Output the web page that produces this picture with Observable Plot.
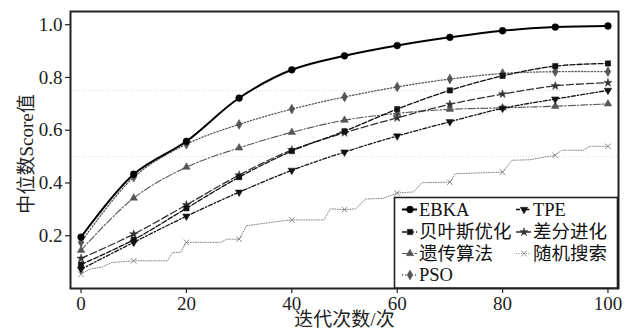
<!DOCTYPE html>
<html>
<head>
<meta charset="utf-8">
<script src="https://cdn.jsdelivr.net/npm/d3@7"></script>
<script src="https://cdn.jsdelivr.net/npm/@observablehq/plot@0.6"></script>
<style>
  html, body { margin: 0; padding: 0; background: #fff; }
  #chart { width: 629px; height: 335px; }
  #chart svg text { font-family: "Liberation Serif", "DejaVu Serif", "Noto Sans CJK SC", serif !important; }
</style>
</head>
<body>
<div id="chart"></div>
<script>
// Iterations at which each optimiser's median score was recorded
const iters = [0, 10, 20, 30, 40, 50, 60, 70, 80, 90, 100];

const ebka  = [0.195, 0.433, 0.558, 0.722, 0.829, 0.882, 0.921, 0.952, 0.977, 0.991, 0.995];
const bayes = [0.091, 0.185, 0.304, 0.422, 0.521, 0.596, 0.680, 0.751, 0.806, 0.843, 0.853];
const ga    = [0.145, 0.343, 0.460, 0.533, 0.592, 0.638, 0.664, 0.679, 0.685, 0.691, 0.700];
const pso   = [0.175, 0.422, 0.547, 0.622, 0.680, 0.726, 0.764, 0.794, 0.815, 0.822, 0.822];
const tpe   = [0.073, 0.175, 0.274, 0.365, 0.448, 0.517, 0.578, 0.632, 0.683, 0.718, 0.751];
const de    = [0.114, 0.206, 0.317, 0.430, 0.525, 0.590, 0.647, 0.698, 0.737, 0.768, 0.780];

// Random search keeps its best score, so its trace is a staircase
const rsIter  = [0, 1.6, 4.1, 5.7, 10, 16.4, 17.4, 18.9, 20, 26.5, 27.7, 30, 31.4, 38.5, 40,
                 46.1, 47.3, 50, 52.1, 54.0, 57.4, 60, 63.1, 64.7, 70, 71.0, 80, 81.8, 85.2,
                 90, 91.2, 95.3, 96.6, 100];
const rsScore = [0.054, 0.073, 0.082, 0.098, 0.105, 0.105, 0.137, 0.137, 0.175, 0.175, 0.187, 0.187, 0.238, 0.257, 0.260,
                 0.260, 0.302, 0.299, 0.302, 0.339, 0.342, 0.362, 0.366, 0.401, 0.403, 0.435, 0.441, 0.486, 0.488,
                 0.505, 0.524, 0.524, 0.539, 0.539];

const xTicks = [0, 20, 40, 60, 80, 100];
const yTicks = [0.2, 0.4, 0.6, 0.8, 1.0];
const gridLevels = [0.5, 0.75];

const xTitle = "迭代次数/次";
const yTitle = "中位数Score值";

const serif = "'Liberation Serif', 'DejaVu Serif', 'Noto Sans CJK SC', serif";

// Line and marker style per optimiser
const styles = {
  "EBKA":    {stroke: "#000", width: 2.0, dash: null,          symbol: "circle",   r: 3.4, rotate: 0,   curve: "catmull-rom"},
  "贝叶斯优化": {stroke: "#111", width: 1.3, dash: "5,2",        symbol: "square",   r: 3.0, rotate: 0,   curve: "catmull-rom"},
  "遗传算法":  {stroke: "#555", width: 1.1, dash: "7,2,1.5,2",  symbol: "triangle", r: 2.8, rotate: 0,   curve: "catmull-rom"},
  "PSO":     {stroke: "#555", width: 1.3, dash: "1.2,2",      symbol: "diamond",  r: 3.0, rotate: 0,   curve: "catmull-rom"},
  "TPE":     {stroke: "#111", width: 1.3, dash: "4,2,1.5,2",  symbol: "triangle", r: 2.8, rotate: 180, curve: "catmull-rom"},
  "差分进化":  {stroke: "#333", width: 1.3, dash: "7,3",        symbol: "star",     r: 2.6, rotate: 0,   curve: "catmull-rom"},
  "随机搜索":  {stroke: "#888", width: 1.0, dash: "1,1.5",      symbol: "times",    r: 2.6, rotate: 0,   curve: "linear"}
};

const seriesData = {
  "EBKA": iters.map((x, i) => ({x, y: ebka[i]})),
  "贝叶斯优化": iters.map((x, i) => ({x, y: bayes[i]})),
  "遗传算法": iters.map((x, i) => ({x, y: ga[i]})),
  "PSO": iters.map((x, i) => ({x, y: pso[i]})),
  "TPE": iters.map((x, i) => ({x, y: tpe[i]})),
  "差分进化": iters.map((x, i) => ({x, y: de[i]})),
  "随机搜索": rsIter.map((x, i) => ({x, y: rsScore[i]}))
};

// Draw order: lighter series underneath, EBKA on top
const drawOrder = ["随机搜索", "PSO", "遗传算法", "差分进化", "贝叶斯优化", "TPE", "EBKA"];

const seriesMarks = drawOrder.flatMap(name => {
  const s = styles[name];
  const pts = seriesData[name];
  const markerPts = pts.filter(d => iters.includes(d.x));
  return [
    Plot.line(pts, {x: "x", y: "y", stroke: s.stroke, strokeWidth: s.width,
                    strokeDasharray: s.dash, curve: s.curve}),
    Plot.dot(markerPts, {x: "x", y: "y", symbol: s.symbol, r: s.r, rotate: s.rotate,
                         fill: s.symbol === "times" ? "none" : s.stroke,
                         stroke: s.stroke, strokeWidth: s.symbol === "times" ? 1 : 0.5})
  ];
});

const chart = Plot.plot({
  width: 629,
  height: 335,
  marginLeft: 70,
  marginRight: 11,
  marginTop: 11,
  marginBottom: 47,
  style: {"background": "#fff", "color": "#222"},
  x: {domain: [-2, 102]},
  y: {domain: [0, 1.05]},
  marks: [
    Plot.ruleY(gridLevels, {stroke: "#d8d8d8", strokeWidth: 1, strokeDasharray: "1,2"}),
    ...seriesMarks,
    Plot.axisX(xTicks, {tickSize: 5, tickPadding: 3, fontSize: 19,
                        stroke: "#222", strokeWidth: 1.2, label: null}),
    Plot.axisY(yTicks, {tickSize: 5, tickPadding: 3, fontSize: 19,
                        tickFormat: d3.format(".1f"), stroke: "#222", strokeWidth: 1.2, label: null}),
    Plot.text([xTitle], {frameAnchor: "bottom", dy: 37, fontSize: 19, fill: "#222"}),
    Plot.text([yTitle], {frameAnchor: "left", dx: -44, dy: 4, rotate: -90, textAnchor: "middle",
                         lineAnchor: "middle", fontSize: 19, fill: "#222"}),
    Plot.frame({stroke: "#222", strokeWidth: 2})
  ]
});

document.getElementById("chart").appendChild(chart);

// Legend box in the lower-right corner of the plotting area
const svg = d3.select(chart);
svg.attr("font-family", serif);
const legend = svg.append("g")
  .attr("font-size", 18.5)
  .attr("fill", "#111").attr("text-anchor", "start");
legend.append("rect")
  .attr("x", 394.5).attr("y", 197.5).attr("width", 223).attr("height", 90.5)
  .attr("fill", "#fff").attr("stroke", "#222").attr("stroke-width", 1.6);

const legendItems = [
  {name: "EBKA",    col: 0, row: 0},
  {name: "贝叶斯优化", col: 0, row: 1},
  {name: "遗传算法",  col: 0, row: 2},
  {name: "PSO",     col: 0, row: 3},
  {name: "TPE",     col: 1, row: 0},
  {name: "差分进化",  col: 1, row: 1},
  {name: "随机搜索",  col: 1, row: 2}
];
const symbolTypes = {
  circle: d3.symbolCircle, square: d3.symbolSquare, triangle: d3.symbolTriangle,
  diamond: d3.symbolDiamond, star: d3.symbolStar, times: d3.symbolTimes
};
const colX = [402, 516];
const rowY = [209.5, 232, 253.5, 275];

legendItems.forEach(item => {
  const s = styles[item.name];
  const x0 = colX[item.col], y0 = rowY[item.row];
  const g = legend.append("g");
  g.append("line")
    .attr("x1", x0).attr("x2", x0 + 15).attr("y1", y0).attr("y2", y0)
    .attr("stroke", s.stroke).attr("stroke-width", s.width)
    .attr("stroke-dasharray", s.dash);
  g.append("path")
    .attr("d", d3.symbol(symbolTypes[s.symbol], Math.PI * s.r * s.r)())
    .attr("transform", `translate(${x0 + 8},${y0}) rotate(${s.rotate})`)
    .attr("fill", s.symbol === "times" ? "none" : s.stroke)
    .attr("stroke", s.stroke).attr("stroke-width", s.symbol === "times" ? 1 : 0.5);
  g.append("text")
    .attr("x", x0 + 17).attr("y", y0).attr("dy", "0.34em")
    .text(item.name);
});

// Every label uses the serif face
svg.selectAll("text").attr("font-family", serif).style("font-family", serif);
</script>
</body>
</html>
